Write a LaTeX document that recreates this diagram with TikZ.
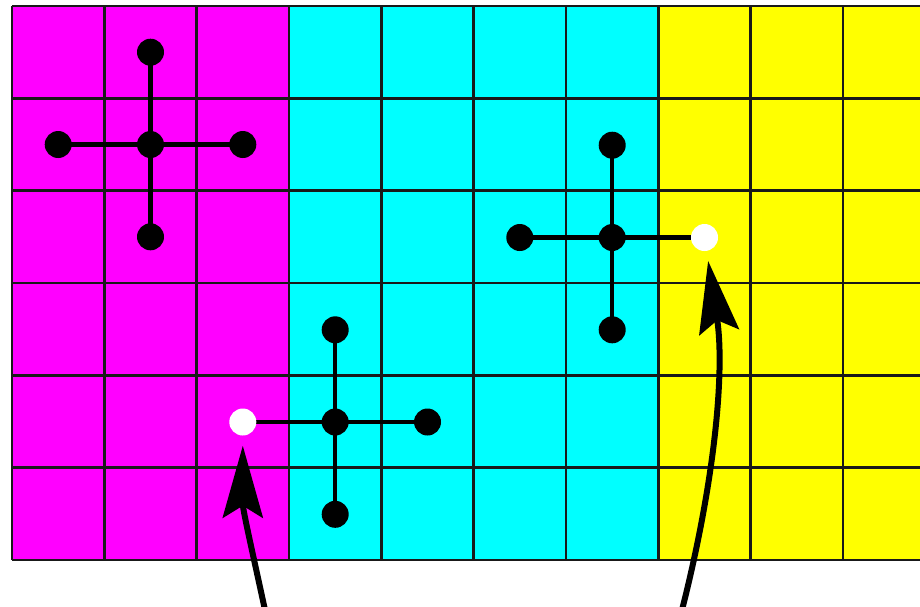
\documentclass[tikz,border=0pt]{standalone}
\usetikzlibrary{arrows.meta}
\pgfdeclarelayer{background}
\pgfsetlayers{background,main}
\definecolor{mag}{RGB}{255,0,255}
\definecolor{cya}{RGB}{0,255,255}
\definecolor{yel}{RGB}{255,255,0}
\begin{document}
\begin{tikzpicture}[x=1pt,y=-1pt,
 dot/.style={circle,fill=black,minimum size=27pt,inner sep=0pt},
 wdot/.style={circle,fill=white,minimum size=27pt,inner sep=0pt},
 arm/.style={line width=4.5pt},
 gridline/.style={line width=2.5pt,draw=black!90},
 pointer/.style={line width=6pt,-{Stealth[length=72pt,width=40pt,inset=12pt]},shorten >=10pt}]
\useasboundingbox (0,0) rectangle (920,606);
\clip (0,0) rectangle (920,606);
\def\s{92.333}
% stencil 1
\node[dot] (a0) at (150.5,144.5) {};
\node[dot] (aN) at (150.5,52.2) {};
\node[dot] (aW) at (58.2,144.5) {};
\node[dot] (aE) at (242.8,144.5) {};
\node[dot] (aS) at (150.5,236.8) {};
% stencil 2
\node[dot] (b0) at (612.2,237.5) {};
\node[dot] (bN) at (612.2,145.2) {};
\node[dot] (bW) at (519.8,237.5) {};
\node[wdot] (bE) at (704.5,237.5) {};
\node[dot] (bS) at (612.2,329.8) {};
% stencil 3
\node[dot] (c0) at (335.2,422) {};
\node[dot] (cN) at (335.2,329.8) {};
\node[wdot] (cW) at (242.8,422) {};
\node[dot] (cE) at (427.5,422) {};
\node[dot] (cS) at (335.2,514.3) {};
\begin{pgfonlayer}{background}
\fill[mag] (12,6) rectangle (289,560);
\fill[cya] (289,6) rectangle (658.3,560);
\fill[yel] (658.3,6) rectangle (935.3,560);
\foreach \i in {0,...,10} \draw[gridline] (12+\i*\s,6) -- (12+\i*\s,560);
\foreach \j in {0,...,6} \draw[gridline] (12,6+\j*\s) -- (935.3,6+\j*\s);
\foreach \p in {a,b,c} {
  \draw[arm] (\p N.center) -- (\p S.center);
  \draw[arm] (\p W.center) -- (\p E.center);
}
\end{pgfonlayer}
\coordinate (s1) at (265,610);
\coordinate (s2) at (682,610);
\draw[pointer] (s1) .. controls (252,550) and (242.8,510) .. (cW);
\draw[pointer] (s2) .. controls (715,480) and (725,370) .. (bE);
\end{tikzpicture}
\end{document}
